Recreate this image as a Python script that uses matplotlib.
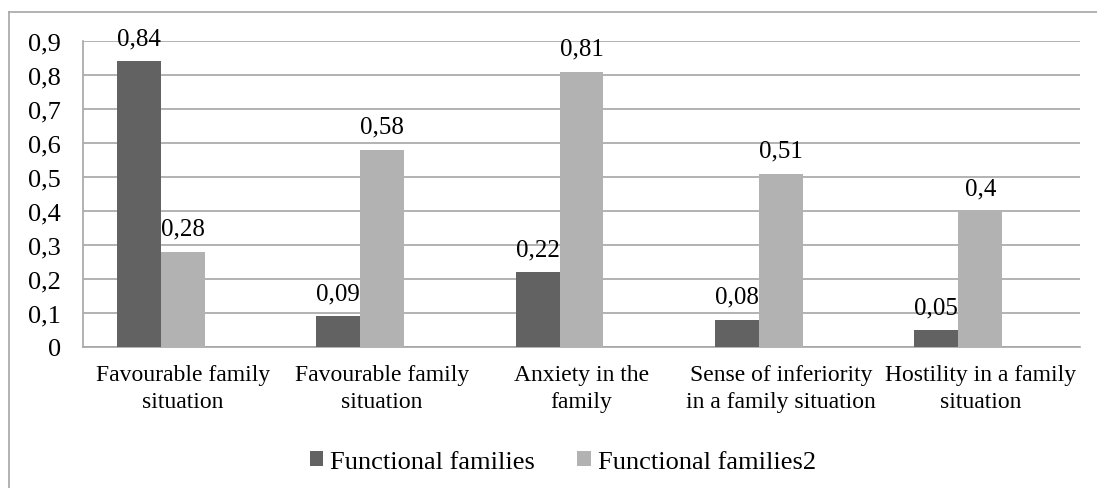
import matplotlib.pyplot as plt
import numpy as np

categories = ['Favourable family\nsituation', 'Favourable family\nsituation',
              'Anxiety in the\nfamily', 'Sense of inferiority\nin a family situation',
              'Hostility in a family\nsituation']
functional = [0.84, 0.09, 0.22, 0.08, 0.05]
functional2 = [0.28, 0.58, 0.81, 0.51, 0.4]
series_names = ['Functional families', 'Functional families2']
yticks = [0, 0.1, 0.2, 0.3, 0.4, 0.5, 0.6, 0.7, 0.8, 0.9]

plt.rcParams['font.family'] = ['Liberation Serif', 'DejaVu Serif']

fig = plt.figure(figsize=(10.97, 4.89), dpi=100)
ax = fig.add_axes([83 / 1097, 1 - 348 / 489, 997 / 1097, 306 / 489])

x = np.arange(len(categories))
w = 0.22
dark = '#626262'
light = '#b2b2b2'
# third (empty) series slot in the original, so bars sit left of centre
b1 = ax.bar(x - w, functional, w, color=dark, label=series_names[0], zorder=3)
b2 = ax.bar(x, functional2, w, color=light, label=series_names[1], zorder=3)

def fmt(v):
    return ('%g' % v).replace('.', ',')

for bars, vals in ((b1, functional), (b2, functional2)):
    for r, v in zip(bars, vals):
        ax.text(r.get_x() + r.get_width() / 2, v + 0.035, fmt(v), ha='center',
                va='bottom', fontsize=18)

ax.set_xlim(-0.5, len(categories) - 0.5)
ax.set_ylim(0, 0.9)
ax.set_yticks(yticks)
ax.set_yticklabels([fmt(t) for t in yticks], fontsize=19)
ax.set_xticks(x)
ax.set_xticklabels(categories, fontsize=17, linespacing=1.4)
ax.tick_params(axis='x', length=0, pad=12)
ax.tick_params(axis='y', length=0, pad=16)
ax.grid(axis='y', color='#a6a6a6', linewidth=1.2, zorder=0)
for s in ['top', 'right']:
    ax.spines[s].set_visible(False)
for s in ['left', 'bottom']:
    ax.spines[s].set_color('#a6a6a6')
    ax.spines[s].set_linewidth(1.2)

fig.legend(loc='center', bbox_to_anchor=(563 / 1097, 1 - 463 / 489), ncol=2, frameon=False,
           fontsize=19, handlelength=0.5, handleheight=0.5, handletextpad=0.27,
           columnspacing=1.6, borderpad=0)

# outer chart border (only top and left visible)
fig.add_artist(plt.Line2D([9 / 1097, 9 / 1097], [0, 1 - 13 / 489], color='#a6a6a6', lw=1.2))
fig.add_artist(plt.Line2D([9 / 1097, 1], [1 - 13 / 489, 1 - 13 / 489], color='#a6a6a6', lw=1.2))

fig.savefig('out.png', dpi=100)
